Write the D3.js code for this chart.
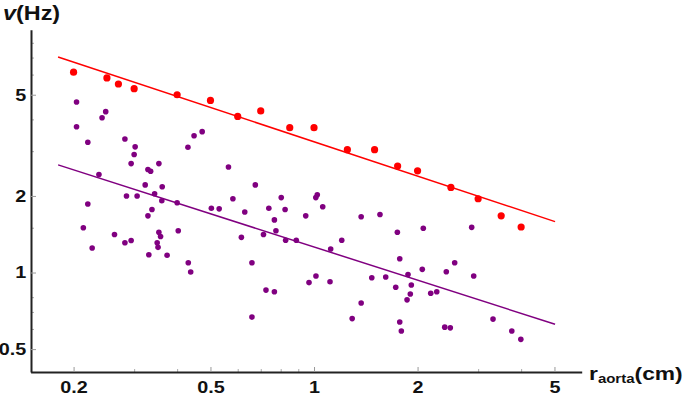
<!DOCTYPE html>
<html><head><meta charset="utf-8">
<script src="https://cdn.jsdelivr.net/npm/d3@7"></script>
<style>
html,body{margin:0;padding:0;background:#fff;}
svg{display:block;font-family:"Liberation Sans",Arial,sans-serif;}
</style></head>
<body><svg id="chart" width="685" height="395"></svg>
<script>
// ---- data ----
const redR = [0.2,0.25,0.27,0.3,0.4,0.5,0.6,0.7,0.85,1.0,1.25,1.5,1.75,2.0,2.5,3.0,3.5,4.0];
const redV = [6.13,5.82,5.51,5.28,5.00,4.75,4.11,4.32,3.71,3.71,3.04,3.04,2.62,2.51,2.16,1.95,1.67,1.51];

const purpleR = [0.204,0.248,0.242,0.204,0.220,0.282,0.302,0.448,0.473,0.430,
  0.300,0.294,0.354,0.329,0.335,0.564,0.237,0.323,0.362,0.675,
  0.285,0.306,0.344,0.361,0.400,0.220,0.581,0.803,0.503,0.530,
  0.338,0.329,0.629,0.739,0.824,0.946,0.767,0.2135,0.263,0.354,
  0.358,0.282,0.294,0.350,0.352,0.2265,0.331,0.374,0.403,0.431,
  0.438,0.615,0.775,0.713,0.827,0.888,0.660,0.725,0.767,0.660,
  0.967,1.022,1.012,1.060,1.371,1.555,1.118,1.204,1.747,2.078,
  1.775,2.064,2.564,2.424,1.013,1.113,1.472,1.616,1.876,1.728,
  1.918,1.905,1.864,2.184,2.274,1.371,1.291,1.775,1.794,2.399,
  2.490,2.873,2.912,3.314,3.758,3.992];
const purpleV = [4.68,4.29,4.06,3.74,3.25,3.35,3.12,3.45,3.58,3.11,
  2.91,2.68,2.68,2.54,2.50,2.60,2.43,2.21,2.175,2.21,
  2.00,2.00,2.04,1.915,1.88,1.86,1.95,1.97,1.79,1.78,
  1.77,1.67,1.73,1.79,1.77,1.67,1.61,1.50,1.41,1.44,
  1.386,1.31,1.336,1.31,1.256,1.248,1.175,1.169,1.46,1.093,
  1.005,1.375,1.46,1.41,1.339,1.339,1.093,0.853,0.840,0.668,
  0.913,2.02,1.97,1.815,1.657,1.69,1.237,1.339,1.439,1.492,
  1.133,1.029,1.093,1.007,0.969,0.920,0.954,0.960,0.982,0.875,
  0.893,0.823,0.781,0.829,0.840,0.759,0.659,0.639,0.589,0.610,
  0.606,1.505,0.969,0.656,0.589,0.546];

// fitted power-law lines: endpoints [r, v]
const redFitR = [0.1803, 5.02];
const redFitV = [7.04, 1.585];
const purpleFitR = [0.1803, 5.02];
const purpleFitV = [2.65, 0.626];

const xMajor = [0.2, 0.5, 1, 2, 5];
const xMinor = [0.3, 0.4, 0.6, 0.7, 0.8, 0.9, 3, 4];
const yMajor = [0.5, 1, 2, 5];
const yMinor = [0.6, 0.7, 0.8, 1.5, 3, 4, 6, 7, 8];

// ---- chart ----
const svg = d3.select("#chart");
const x = d3.scaleLog().domain([0.15, 6]).range([30.6, 581.7]);
const y = d3.scaleLog().domain([0.406, 9]).range([372.1, 29.8]);
const fmt = d => String(d);
const SX = 1.2;

// minor ticks
svg.append("g").attr("transform","translate(0,372)")
  .call(d3.axisBottom(x).tickValues(xMinor).tickSizeInner(-3).tickSizeOuter(0).tickFormat(""))
  .call(g=>g.select(".domain").remove())
  .call(g=>g.selectAll("line").attr("stroke","#aaa"));
svg.append("g").attr("transform","translate(31,0)")
  .call(d3.axisLeft(y).tickValues(yMinor).tickSizeInner(-3).tickSizeOuter(0).tickFormat(""))
  .call(g=>g.select(".domain").remove())
  .call(g=>g.selectAll("line").attr("stroke","#aaa"));

// major axes
const gx = svg.append("g").attr("transform","translate(0,372)")
  .call(d3.axisBottom(x).tickValues(xMajor).tickFormat(fmt).tickSizeInner(-5).tickSizeOuter(0).tickPadding(9));
gx.select(".domain").attr("stroke","#222").attr("stroke-width",2);
gx.selectAll("line").attr("stroke","#999");
gx.selectAll("text").attr("font-size",16.5).attr("font-weight","bold").attr("fill","#111")
  .attr("transform",`scale(${SX},1)`);

const gy = svg.append("g").attr("transform","translate(31,0)")
  .call(d3.axisLeft(y).tickValues(yMajor).tickFormat(fmt).tickSizeInner(-5).tickSizeOuter(0).tickPadding(4));
gy.select(".domain").attr("stroke","#222").attr("stroke-width",2);
gy.selectAll("line").attr("stroke","#999");
gy.selectAll("text").attr("font-size",16.5).attr("font-weight","bold").attr("fill","#111")
  .attr("transform",`scale(${SX},1)`);

// fit lines
const line = d3.line().x(d=>x(d[0])).y(d=>y(d[1]));
svg.append("path").datum(d3.zip(redFitR, redFitV)).attr("d", line)
  .attr("fill","none").attr("stroke","#ff0000").attr("stroke-width",1.5);
svg.append("path").datum(d3.zip(purpleFitR, purpleFitV)).attr("d", line)
  .attr("fill","none").attr("stroke","#800080").attr("stroke-width",1.5);

// points
svg.append("g").selectAll("circle").data(d3.zip(purpleR, purpleV)).join("circle")
  .attr("cx", d=>x(d[0])).attr("cy", d=>y(d[1])).attr("r", 2.8).attr("fill","#800080");
svg.append("g").selectAll("circle").data(d3.zip(redR, redV)).join("circle")
  .attr("cx", d=>x(d[0])).attr("cy", d=>y(d[1])).attr("r", 3.6).attr("fill","#ff0000");

// axis titles
const yt = svg.append("text").attr("x", 3/SX).attr("y", 20).attr("font-size", 19.5)
  .attr("font-weight","bold").attr("fill","#111").attr("transform",`scale(${SX},1)`);
yt.append("tspan").attr("font-style","italic").text("v");
yt.append("tspan").text("(Hz)");

const xt = svg.append("text").attr("x", 589/SX).attr("y", 380).attr("font-size", 19)
  .attr("font-weight","bold").attr("fill","#111").attr("transform",`scale(${SX},1)`);
xt.append("tspan").text("r");
xt.append("tspan").attr("font-size",12.5).attr("dy",3).text("aorta");
xt.append("tspan").attr("dy",-3).text("(cm)");
</script></body></html>
